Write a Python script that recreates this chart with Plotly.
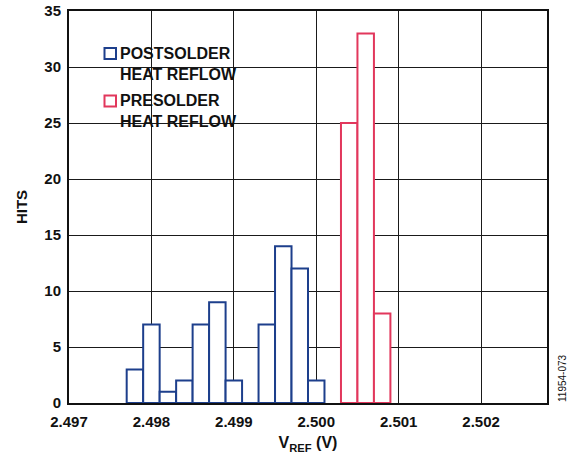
import plotly.graph_objects as go

# ---- data ----
bin_width = 0.0002
post_x = [2.4978, 2.4980, 2.4982, 2.4984, 2.4986, 2.4988, 2.4990, 2.4992, 2.4994, 2.4996, 2.4998, 2.5000]
post_hits = [3, 7, 1, 2, 7, 9, 2, 0, 7, 14, 12, 2]
pre_x = [2.5004, 2.5006, 2.5008]
pre_hits = [25, 33, 8]
x_ticks = [2.497, 2.498, 2.499, 2.500, 2.501, 2.502]
x_ticktext = ["2.497", "2.498", "2.499", "2.500", "2.501", "2.502"]
y_ticks = [0, 5, 10, 15, 20, 25, 30, 35]

BLUE = "#1D3F8C"
RED = "#E2375C"
FONT = "Liberation Sans, Arial, Helvetica, sans-serif"

W, H = 569, 458
ML, MR, MT, MB = 69, 22, 11, 55
PW, PH = W - ML - MR, H - MT - MB


def px(x):
    return (x - ML) / PW


def py(y):
    return (H - MB - y) / PH


fig = go.Figure()
fig.add_trace(go.Bar(x=post_x, y=post_hits, width=bin_width, name="POSTSOLDER HEAT REFLOW",
                     marker=dict(color="white", line=dict(color=BLUE, width=2))))
fig.add_trace(go.Bar(x=pre_x, y=pre_hits, width=bin_width, name="PRESOLDER HEAT REFLOW",
                     marker=dict(color="white", line=dict(color=RED, width=2))))

# legend box (custom)
fig.add_shape(type="rect", xref="paper", yref="paper", x0=px(98), x1=px(246), y0=py(134), y1=py(40),
              fillcolor="white", line=dict(width=0), layer="between")
fig.add_shape(type="rect", xref="paper", yref="paper", x0=px(104.5), x1=px(116), y0=py(59), y1=py(48),
              fillcolor="white", line=dict(color=BLUE, width=2), layer="above")
fig.add_shape(type="rect", xref="paper", yref="paper", x0=px(104.5), x1=px(116), y0=py(106.5), y1=py(95.5),
              fillcolor="white", line=dict(color=RED, width=2), layer="above")
fig.add_annotation(xref="paper", yref="paper", x=px(118), y=py(43), xanchor="left", yanchor="top",
                   text="<b>POSTSOLDER<br>HEAT REFLOW</b>", showarrow=False, align="left",
                   font=dict(family=FONT, size=16, color="#111"))
fig.add_annotation(xref="paper", yref="paper", x=px(118), y=py(90), xanchor="left", yanchor="top",
                   text="<b>PRESOLDER<br>HEAT REFLOW</b>", showarrow=False, align="left",
                   font=dict(family=FONT, size=16, color="#111"))
fig.add_annotation(xref="paper", yref="paper", x=px(562), y=py(378), xanchor="center", yanchor="middle",
                   text="11954-073", textangle=-90, showarrow=False,
                   font=dict(family=FONT, size=10, color="#111"))

fig.update_layout(
    template="none",
    width=W, height=H,
    margin=dict(l=ML, r=MR, t=MT, b=MB, pad=0, autoexpand=False),
    paper_bgcolor="white", plot_bgcolor="white",
    barmode="overlay",
    showlegend=False,
    font=dict(family=FONT, size=15, color="#111"),
)
fig.update_xaxes(
    range=[2.497, 2.5028], tickvals=x_ticks, ticktext=x_ticktext, automargin=False,
    tickfont=dict(family=FONT, size=15, color="#111", weight="bold"),
    showgrid=True, gridcolor="#1a1a1a", gridwidth=1.3,
    zeroline=False, showline=True, mirror=True, linecolor="#111", linewidth=2,
    ticks="", ticklabelstandoff=4,
    title=dict(text="<b>V<sub>REF</sub> (V)</b>", font=dict(family=FONT, size=16, color="#111"), standoff=8),
)
fig.update_yaxes(
    range=[0, 35], tickvals=y_ticks, automargin=False,
    tickfont=dict(family=FONT, size=15, color="#111", weight="bold"),
    showgrid=True, gridcolor="#1a1a1a", gridwidth=1.3,
    zeroline=False, showline=True, mirror=True, linecolor="#111", linewidth=2,
    ticks="", ticklabelstandoff=3,
    title=dict(text="<b>HITS</b>", font=dict(family=FONT, size=15, color="#111"), standoff=13),
)

fig.write_html("out.html", config={"displayModeBar": False},
               post_script="document.body.style.margin='0';document.body.style.overflow='hidden';")
